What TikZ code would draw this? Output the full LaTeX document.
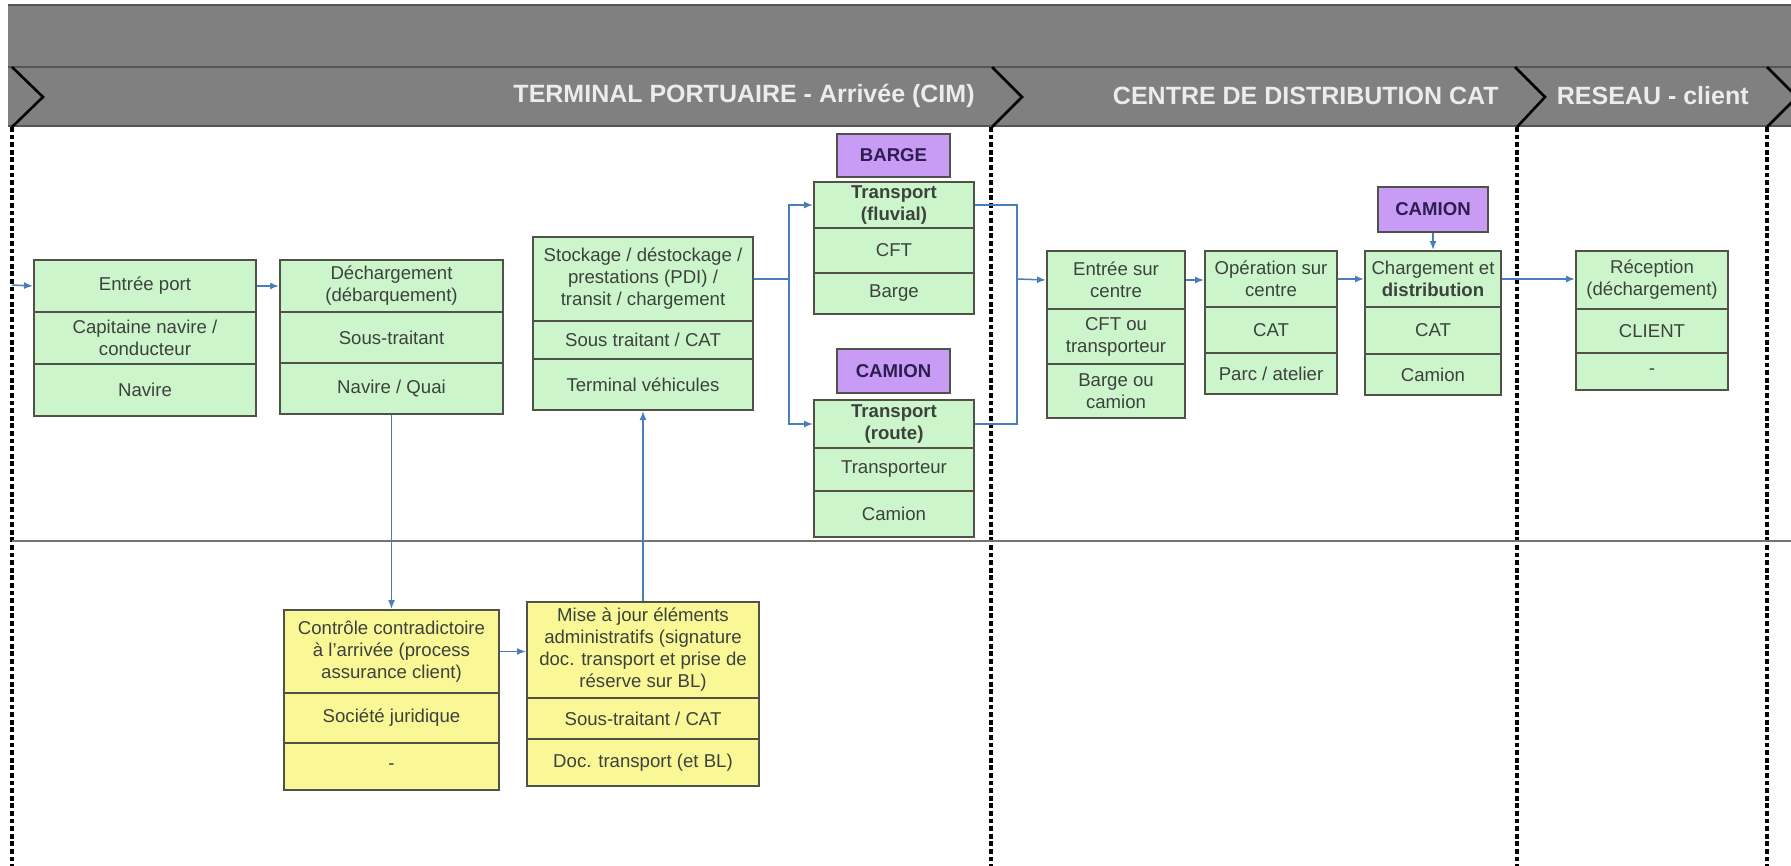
\documentclass[tikz,border=0pt]{standalone}
\usepackage{fontspec}
\setmainfont{Liberation Sans}
\usetikzlibrary{arrows.meta,calc}
\definecolor{gfill}{RGB}{204,245,204}
\definecolor{yfill}{RGB}{250,248,150}
\definecolor{pfill}{RGB}{200,155,245}
\definecolor{boxline}{RGB}{80,82,72}
\definecolor{txt}{RGB}{60,66,60}
\definecolor{ptxt}{RGB}{45,30,80}
\definecolor{flowblue}{RGB}{74,126,187}
\definecolor{headgray}{RGB}{128,128,128}
\definecolor{headline}{RGB}{85,85,85}
\definecolor{htxt}{RGB}{236,236,236}
\definecolor{sepgray}{RGB}{115,115,115}
\newcommand{\bxfont}{\fontsize{9.3}{11}\selectfont}
\newcommand{\hdfont}{\fontsize{12.5}{15}\selectfont\bfseries}
% style, name, x1, y1, x2, y2, text  (coordinates in reference pixels)
\newcommand{\bxcell}[7]{%
  \pgfmathsetmacro{\bxw}{(#5-#3)*0.5}%
  \pgfmathsetmacro{\bxh}{(#6-#4)*0.5}%
  \node[#1, minimum width=\bxw pt, minimum height=\bxh pt, anchor=north west] (#2) at (#3,#4) {#7};%
}
\begin{document}
\begin{tikzpicture}[x=0.5pt,y=-0.5pt,
 cell/.style={draw=boxline, line width=1pt, inner sep=0pt, align=center, font=\bxfont, text=txt},
 gcell/.style={cell, fill=gfill},
 gbcell/.style={cell, fill=gfill, font=\bxfont\bfseries},
 ycell/.style={cell, fill=yfill},
 pcell/.style={cell, fill=pfill, font=\bxfont\bfseries, text=ptxt},
 flowline/.style={draw=flowblue, line width=0.75pt},
 flow/.style={flowline, -{Latex[length=4.5pt,width=3.5pt]}},
 lane/.style={draw=black, line width=1.6pt, dash pattern=on 2.4pt off 1.4pt},
 chev/.style={draw=black, line width=1.3pt},
 bandline/.style={draw=headline, line width=1.2pt},
 htext/.style={font=\hdfont, text=htxt, anchor=east, inner sep=0pt},
]
\useasboundingbox (0,0) rectangle (1791,866);
\clip (0,0) rectangle (1791,866);
% header bands
\fill[headgray] (8,5) rectangle (1791,126);
\draw[bandline] (8,5) -- (1791,5);
\draw[bandline] (8,67) -- (1791,67);
\draw[bandline] (8,126) -- (1791,126);
% swimlane separators
\draw[lane] (12,127) -- (12,866);
\draw[lane] (991,127) -- (991,866);
\draw[lane] (1517,127) -- (1517,866);
\draw[lane] (1767,127) -- (1767,866);
\draw[draw=sepgray, line width=1.1pt] (12,541) -- (1791,541);
% chevrons
\draw[chev] (12,67) -- (43,97) -- (12,127);
\draw[chev] (992,67) -- (1022,97) -- (992,127);
\draw[chev] (1515,67) -- (1545,97) -- (1517,127);
\draw[chev] (1767,67) -- (1797,97) -- (1767,127);
% header texts
\node[htext] (h1) at (975,96) {TERMINAL PORTUAIRE - Arrivée (CIM)};
\node[htext] (h2) at (1499,96) {CENTRE DE DISTRIBUTION CAT};
\node[htext] (h3) at (1749,96) {RESEAU - client};
% box 1
\bxcell{gcell}{b1a}{33}{259}{255}{311}{Entrée port}
\bxcell{gcell}{b1b}{33}{311}{255}{363}{Capitaine navire /\\conducteur}
\bxcell{gcell}{b1c}{33}{363}{255}{415}{Navire}
% box 2
\bxcell{gcell}{b2a}{279}{259}{502}{311}{Déchargement\\(débarquement)}
\bxcell{gcell}{b2b}{279}{311}{502}{362}{Sous-traitant}
\bxcell{gcell}{b2c}{279}{362}{502}{413}{Navire / Quai}
% box 3
\bxcell{gcell}{b3a}{532}{236}{752}{320}{Stockage / déstockage /\\prestations (PDI) /\\transit / chargement}
\bxcell{gcell}{b3b}{532}{320}{752}{358}{Sous traitant / CAT}
\bxcell{gcell}{b3c}{532}{358}{752}{409}{Terminal véhicules}
% barge
\bxcell{pcell}{barge}{836}{133}{949}{176}{BARGE}
\bxcell{gbcell}{b4a}{813}{181}{973}{227}{Transport\\(fluvial)}
\bxcell{gcell}{b4b}{813}{227}{973}{272}{CFT}
\bxcell{gcell}{b4c}{813}{272}{973}{313}{Barge}
% camion (route)
\bxcell{pcell}{cam1}{836}{348}{949}{392}{CAMION}
\bxcell{gbcell}{b5a}{813}{399}{973}{447}{Transport\\(route)}
\bxcell{gcell}{b5b}{813}{447}{973}{490}{Transporteur}
\bxcell{gcell}{b5c}{813}{490}{973}{536}{Camion}
% centre
\bxcell{gcell}{b6a}{1046}{250}{1184}{308}{Entrée sur\\centre}
\bxcell{gcell}{b6b}{1046}{308}{1184}{363}{CFT ou\\transporteur}
\bxcell{gcell}{b6c}{1046}{363}{1184}{417}{Barge ou\\camion}
\bxcell{gcell}{b7a}{1204}{250}{1336}{306}{Opération sur\\centre}
\bxcell{gcell}{b7b}{1204}{306}{1336}{352}{CAT}
\bxcell{gcell}{b7c}{1204}{352}{1336}{393}{Parc / atelier}
\bxcell{pcell}{cam2}{1377}{186}{1487}{231}{CAMION}
\bxcell{gcell}{b8a}{1364}{250}{1500}{306}{Chargement et\\\textbf{distribution}}
\bxcell{gcell}{b8b}{1364}{306}{1500}{353}{CAT}
\bxcell{gcell}{b8c}{1364}{353}{1500}{394}{Camion}
% client
\bxcell{gcell}{b9a}{1575}{250}{1727}{308}{Réception\\(déchargement)}
\bxcell{gcell}{b9b}{1575}{308}{1727}{352}{CLIENT}
\bxcell{gcell}{b9c}{1575}{352}{1727}{389}{-}
% lower boxes
\bxcell{ycell}{y1a}{283}{609}{498}{692}{Contrôle contradictoire\\à l'arrivée (process\\assurance client)}
\bxcell{ycell}{y1b}{283}{692}{498}{742}{Société juridique}
\bxcell{ycell}{y1c}{283}{742}{498}{789}{-}
\bxcell{ycell}{y2a}{526}{601}{758}{697}{Mise à jour éléments\\administratifs (signature\\doc. transport et prise de\\réserve sur BL)}
\bxcell{ycell}{y2b}{526}{697}{758}{738}{Sous-traitant / CAT}
\bxcell{ycell}{y2c}{526}{738}{758}{785}{Doc. transport (et BL)}
% connectors
\coordinate (in0) at (12,285);
\coordinate (j2) at (1017,279);
\draw[flow] (in0) -- (b1a.west);
\draw[flow] (b1a.east) -- (b2a.west);
\draw[flow] (b2c.south) -- (y1a.north);
\draw[flow] (y1a.east) -- (y1a.east -| y2a.west);
\draw[flow] (y2a.north) -- (b3c.south);
\draw[flow] (b3a.east) -- ++(35,0) |- (b4a.west);
\draw[flow] (b3a.east) -- ++(35,0) |- (b5a.west);
\draw[flowline] (b4a.east) -| (j2);
\draw[flowline] (b5a.east) -| (j2);
\draw[flow] (j2) -- (b6a.west);
\draw[flow] (b6a.east) -- (b6a.east -| b7a.west);
\draw[flow] (b7a.east) -- (b7a.east -| b8a.west);
\draw[flow] (cam2.south) -- (b8a.north);
\draw[flow] (b8a.east) -- (b8a.east -| b9a.west);
\end{tikzpicture}
\end{document}
